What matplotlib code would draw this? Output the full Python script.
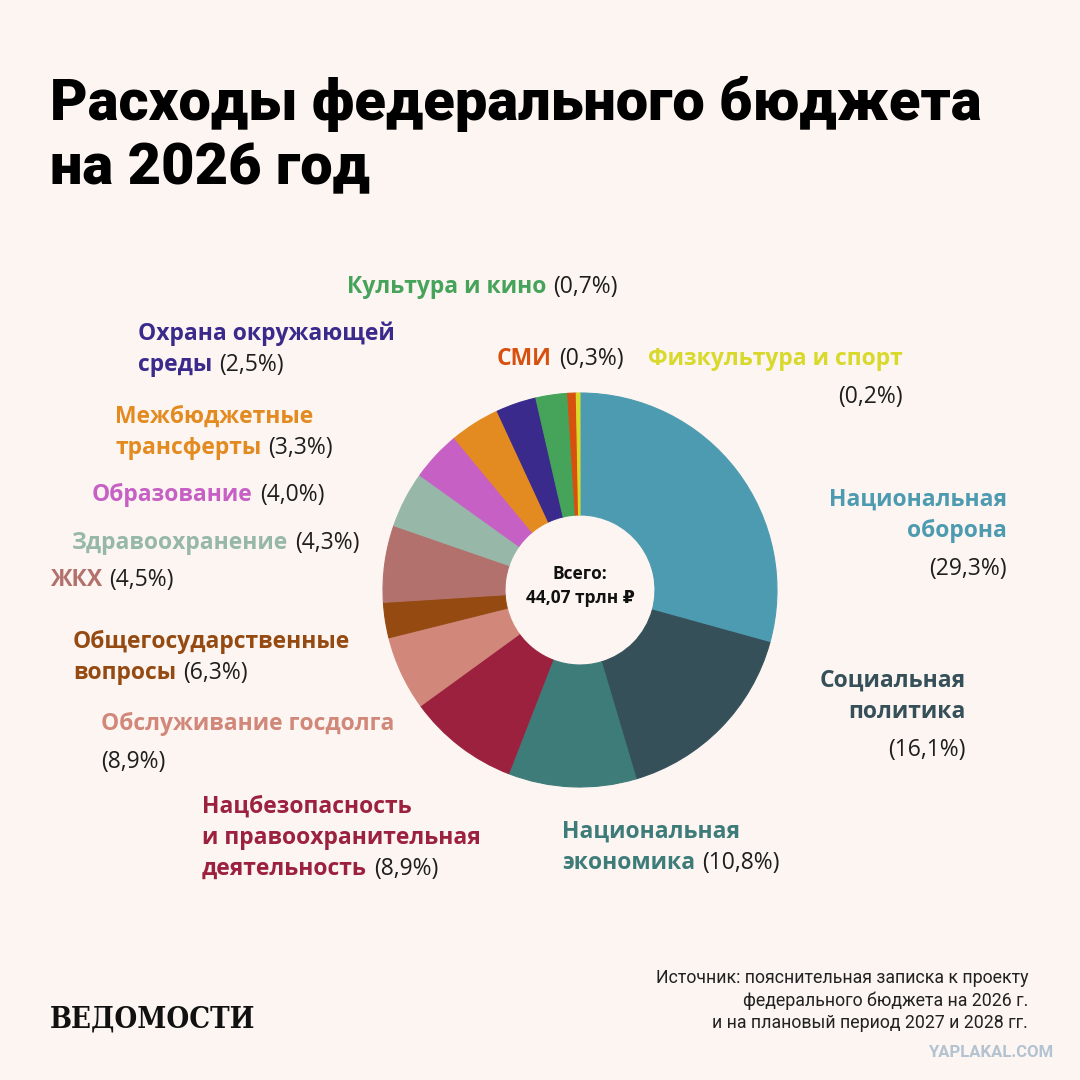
import matplotlib.pyplot as plt

# budget spending shares, clockwise from 12 o'clock
categories = [
    "Национальная\nоборона",
    "Социальная\nполитика",
    "Национальная\nэкономика",
    "Нацбезопасность\nи правоохранительная\nдеятельность",
    "Обслуживание госдолга",
    "Общегосударственные\nвопросы",
    "ЖКХ",
    "Здравоохранение",
    "Образование",
    "Межбюджетные\nтрансферты",
    "Охрана окружающей\nсреды",
    "Культура и кино",
    "СМИ",
    "Физкультура и спорт",
]
# percentages printed in the labels
shares = [29.3, 16.1, 10.8, 8.9, 8.9, 6.3, 4.5, 4.3, 4.0, 3.3, 2.5, 0.7, 0.3, 0.2]
# slice sizes as drawn in the picture (they do not follow the labels exactly)
slice_sizes = [29.3, 16.1, 10.5, 9.1, 6.1, 2.9, 6.3, 4.6, 4.1, 4.1, 3.3, 2.6, 0.7, 0.3]
colors = [
    "#4d9bb0", "#36505a", "#3e7c7a", "#9c213f", "#d1877a", "#954a12", "#b3716d",
    "#97b8a8", "#c660c4", "#e38b20", "#392a8c", "#45a35a", "#d8500f", "#d9d92c",
]
total_text = "Всего:\n44,07 трлн ₽"
title = "Расходы федерального бюджета\nна 2026 год"
source = ("Источник: пояснительная записка к проекту\n"
          "федерального бюджета на 2026 г.\n"
          "и на плановый период 2027 и 2028 гг.")

# label placement in pixels: x, baseline of first line, alignment, percent on own line
label_pos = [
    (1007, 506, "right", True),
    (966, 687, "right", True),
    (562, 838, "left", False),
    (202, 813, "left", False),
    (101, 730, "left", True),
    (73, 648, "left", False),
    (50, 586, "left", False),
    (72, 549, "left", False),
    (92, 501, "left", False),
    (115, 423, "left", False),
    (138, 340, "left", False),
    (347, 293, "left", False),
    (497, 365, "left", False),
    (903, 365, "right", True),
]

BG = "#fcf5f1"
LABEL_FONT = ["Open Sans", "DejaVu Sans"]
NARROW = ["Roboto", "DejaVu Sans"]
FS = 16.5
LINE = 31
PCT_GAP = 38

fig = plt.figure(figsize=(10.8, 10.8), dpi=100, facecolor=BG)
ax = fig.add_axes([0, 0, 1, 1])
ax.set_facecolor(BG)

wedges, _ = ax.pie(slice_sizes, colors=colors, startangle=-90, counterclock=True,
                   center=(580, 590), radius=197,
                   wedgeprops=dict(width=122, linewidth=0.8))
for w in wedges:
    w.set_edgecolor(w.get_facecolor())

ax.set_xlim(0, 1080)
ax.set_ylim(1080, 0)
ax.set_aspect("equal")
ax.axis("off")


def pct_text(v):
    return "(" + f"{v:.1f}".replace(".", ",") + "%)"


for name, v, c, (x, y, ha, own_line) in zip(categories, shares, colors, label_pos):
    lines = name.split("\n")
    t = None
    for i, line in enumerate(lines):
        t = ax.text(x, y + i * LINE, line, ha=ha, va="baseline", color=c,
                    fontsize=FS, fontweight="bold", family=LABEL_FONT)
    if own_line:
        ax.text(x, y + (len(lines) - 1) * LINE + PCT_GAP, pct_text(v), ha=ha,
                va="baseline", color="#1e1e1e", fontsize=FS, family=LABEL_FONT)
    else:
        ax.annotate(pct_text(v), xy=(1, 0), xycoords=t, xytext=(5, 0),
                    textcoords="offset points", ha="left", va="bottom",
                    color="#1e1e1e", fontsize=FS, family=LABEL_FONT)

# total in the hole
tl = total_text.split("\n")
ax.text(580, 579, tl[0], ha="center", va="baseline", fontsize=12.5,
        fontweight="bold", family=LABEL_FONT, color="#111111")
ax.text(580, 603, tl[1], ha="center", va="baseline", fontsize=12.5,
        fontweight="bold", family=LABEL_FONT, color="#111111")

# title, sized so the first line spans the same width as in the reference
renderer = fig.canvas.get_renderer()
title_lines = title.split("\n")
title_texts = [ax.text(50, 120 + i * 64, line, ha="left", va="baseline", fontsize=50,
                       fontweight="black", family=NARROW, color="#000000")
               for i, line in enumerate(title_lines)]
w0 = title_texts[0].get_window_extent(renderer).width
for t in title_texts:
    t.set_fontsize(50 * 933 / w0)

# source
for i, line in enumerate(source.split("\n")):
    ax.text(1028, 983 + i * 22.5, line, ha="right", va="baseline", fontsize=12.8,
            family=NARROW, color="#222222")

ax.text(50, 1027, "ВЕДОМОСТИ", ha="left", va="baseline", fontsize=21,
        fontweight="bold", family=["DejaVu Serif"], fontstretch="condensed",
        color="#111111")
ax.text(1053, 1057, "YAPLAKAL.COM", ha="right", va="baseline", fontsize=12,
        fontweight="bold", family=NARROW, color="#b3c3d2")

fig.savefig("out.png", dpi=100, facecolor=BG)
